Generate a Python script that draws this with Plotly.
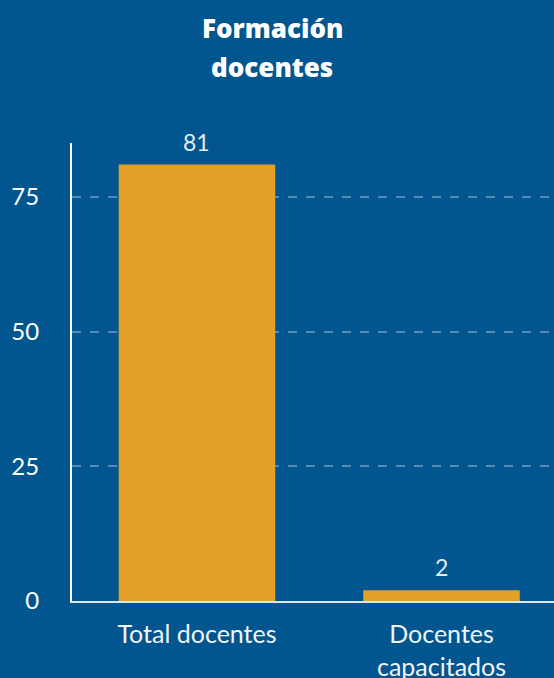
import plotly.graph_objects as go

categories = ["Total docentes", "Docentes<br>capacitados"]
values = [81, 2]
y_ticks = [0, 25, 50, 75]
title_lines = ["Formación", "docentes"]

BG = "#02568F"
BAR = "#E3A027"

W, H = 554, 678
ML, MR, MT, MB = 72, 0, 143, 77

fig = go.Figure(go.Bar(
    x=categories,
    y=values,
    marker=dict(color=BAR, line=dict(width=0)),
    width=0.64,
    hoverinfo="x+y",
))

# value labels above bars (data coordinates)
for c, v in zip(categories, values):
    fig.add_annotation(
        x=c, y=v, xref="x", yref="y", text=str(v), showarrow=False,
        yanchor="bottom", yshift=7,
        font=dict(family="Lato", size=23, color="#E3EAF2"),
    )

# title lines (positions given in pixels, converted to paper coords)
plot_w = W - ML - MR
plot_h = H - MT - MB
title_px_x = 272
title_px_y = [28, 67]
for line, py in zip(title_lines, title_px_y):
    fig.add_annotation(
        x=(title_px_x - ML) / plot_w, xref="paper",
        y=(H - MB - py) / plot_h, yref="paper",
        text=line, showarrow=False, xanchor="center", yanchor="middle",
        font=dict(family="Open Sans", size=26, color="white", weight=800),
    )

fig.update_layout(
    width=W, height=H,
    paper_bgcolor=BG, plot_bgcolor=BG,
    margin=dict(l=ML, r=MR, t=MT, b=MB),
    showlegend=False,
    font=dict(family="Lato", color="white"),
)

fig.update_xaxes(
    range=[-0.511, 1.46],
    showgrid=False,
    showline=True, linecolor="#DCE4EC", linewidth=2,
    ticks="outside", ticklen=10, tickcolor="rgba(0,0,0,0)",
    tickfont=dict(family="Lato", size=25, color="#F2F5F8"),
    zeroline=False, automargin=False,
)
fig.update_yaxes(
    range=[0, 85],
    tickvals=y_ticks,
    showgrid=True, gridcolor="rgba(150,185,215,0.55)", griddash="dash", gridwidth=1.5,
    showline=True, linecolor="white", linewidth=2,
    ticks="outside", ticklen=26, tickcolor="rgba(0,0,0,0)",
    tickfont=dict(family="Lato", size=24, color="white"),
    zeroline=False, automargin=False,
)

fig.write_html(
    "out.html",
    config={"displayModeBar": False},
    post_script="document.body.style.margin='0';",
)
